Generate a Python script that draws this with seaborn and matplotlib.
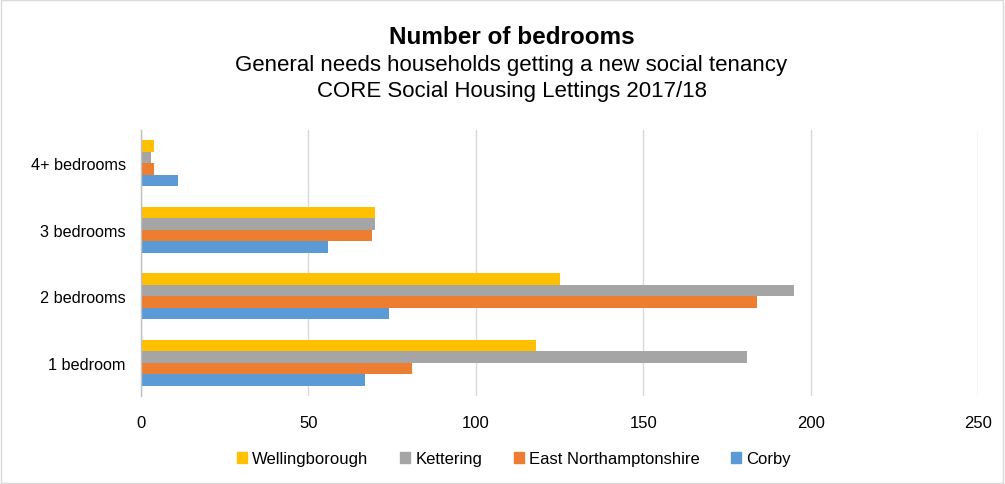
import matplotlib
matplotlib.use("Agg")
import matplotlib.pyplot as plt
from matplotlib.patches import Rectangle
import pandas as pd
import seaborn as sns

# Lettings by bedroom count, per district
categories = ["4+ bedrooms", "3 bedrooms", "2 bedrooms", "1 bedroom"]
districts = ["Wellingborough", "Kettering", "East Northamptonshire", "Corby"]
wellingborough = [4, 70, 125, 118]
kettering = [3, 70, 195, 181]
east_northants = [4, 69, 184, 81]
corby = [11, 56, 74, 67]

palette = {"Wellingborough": "#FFC000", "Kettering": "#A5A5A5",
           "East Northamptonshire": "#ED7D31", "Corby": "#5B9BD5"}

rows = []
for name, vals in zip(districts, [wellingborough, kettering, east_northants, corby]):
    for cat, v in zip(categories, vals):
        rows.append({"Bedrooms": cat, "District": name, "Count": v})
df = pd.DataFrame(rows)

sns.set_theme(style="white")
plt.rcParams["font.family"] = ["Liberation Sans", "DejaVu Sans"]
plt.rcParams["text.color"] = "#000000"

fig = plt.figure(figsize=(10.05, 4.85), dpi=100)
ax = fig.add_axes([141 / 1005, 1 - 397 / 485, (978 - 141) / 1005, (397 - 131) / 485])

sns.barplot(data=df, y="Bedrooms", x="Count", hue="District", order=categories,
            hue_order=districts, palette=palette, orient="h", width=0.69,
            saturation=1, ax=ax, legend=False, linewidth=0)

ax.set_xlim(0, 250)
ax.set_xticks([0, 50, 100, 150, 200, 250])
ax.set_xlabel("")
ax.set_ylabel("")
ax.grid(axis="x", color="#D9D9D9", linewidth=1)
ax.set_axisbelow(True)
for side in ["top", "right", "bottom"]:
    ax.spines[side].set_visible(False)
ax.spines["left"].set_color("#BFBFBF")
ax.spines["left"].set_linewidth(1)
ax.tick_params(axis="both", length=0, labelsize=12, colors="#000000")
ax.tick_params(axis="y", labelsize=11.7)
ax.tick_params(axis="x", pad=14)
ax.tick_params(axis="y", pad=11)

fig.text(0.509, 1 - 38 / 485, "Number of bedrooms", ha="center", va="center",
         fontsize=17.5, fontweight="bold")
fig.text(0.509, 1 - 66 / 485, "General needs households getting a new social tenancy",
         ha="center", va="center", fontsize=16)
fig.text(0.509, 1 - 91 / 485, "CORE Social Housing Lettings 2017/18",
         ha="center", va="center", fontsize=16)

handles = [Rectangle((0, 0), 1, 1, color=palette[d]) for d in districts]
fig.legend(handles, districts, loc="center", bbox_to_anchor=(514 / 1005, 1 - 460 / 485),
           ncol=4, frameon=False, fontsize=12, handlelength=0.6, handleheight=0.6,
           handletextpad=0.3, columnspacing=1.9)

fig.add_artist(Rectangle((0.001, 0.002), 0.997, 0.996, transform=fig.transFigure,
                         fill=False, edgecolor="#D9D9D9", linewidth=1))

fig.savefig("out.png", dpi=100)
